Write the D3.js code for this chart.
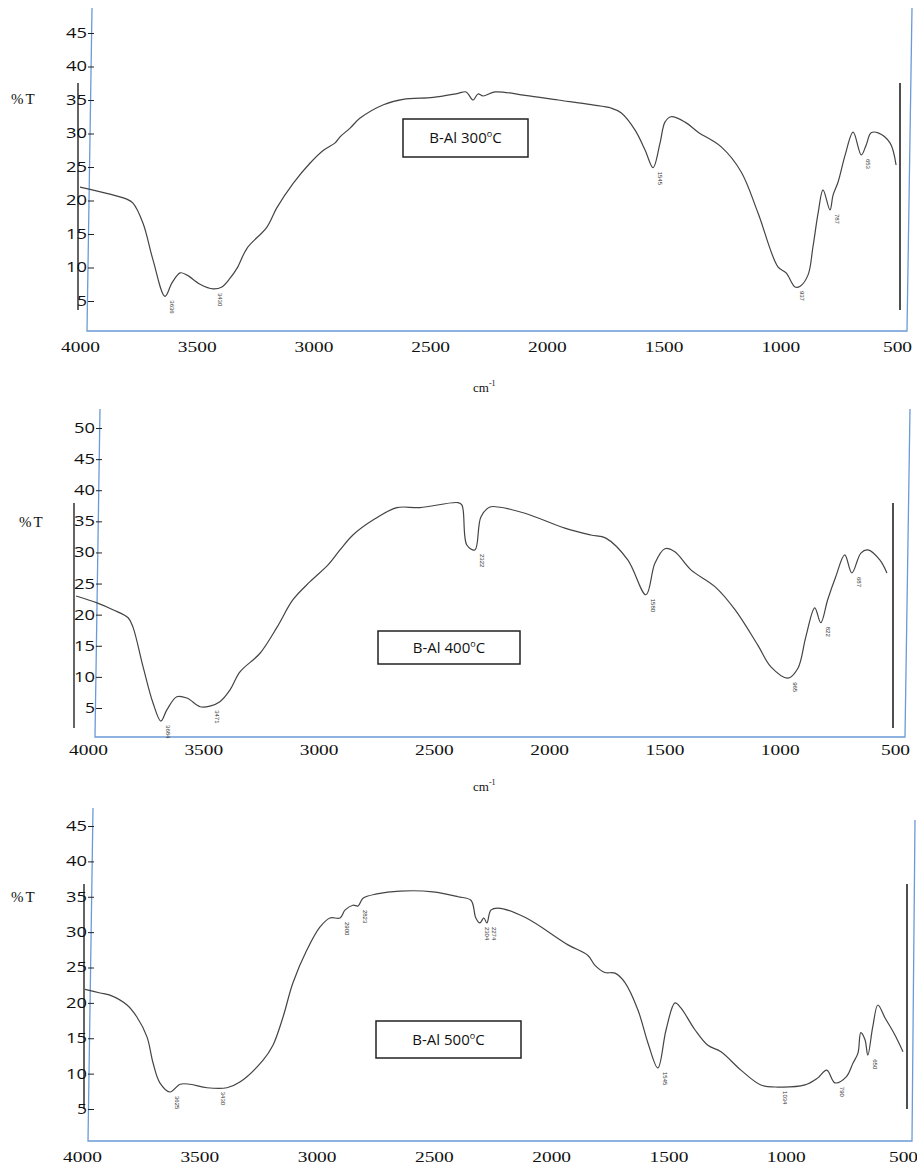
<!DOCTYPE html>
<html>
<head>
<meta charset="utf-8">
<script src="https://cdn.jsdelivr.net/npm/d3@7"></script>
<style>
body { margin: 0; background: #fff; }
</style>
</head>
<body>
<div id="chart"></div>
<script>
// wavenumber ticks shared by the three spectra
const xTicks = [4000, 3500, 3000, 2500, 2000, 1500, 1000, 500];
const yTicks300 = [5, 10, 15, 20, 25, 30, 35, 40, 45];
const yTicks400 = [5, 10, 15, 20, 25, 30, 35, 40, 45, 50];
const yTicks500 = [5, 10, 15, 20, 25, 30, 35, 40, 45];
const sampleNames = ["B-Al 300", "B-Al 400", "B-Al 500"];

// [wavenumber cm-1, %T]
const spec300 = [
  [4000, 22.0], [3800, 20.2], [3773, 19.6], [3730, 16.6], [3687, 11.1], [3636, 5.7],
  [3606, 7.7], [3571, 9.2], [3543, 8.9], [3486, 7.5], [3430, 6.8], [3392, 7.1],
  [3357, 8.4], [3327, 9.9], [3284, 12.9], [3200, 16.0], [3157, 18.9], [3086, 22.6],
  [3014, 25.6], [2957, 27.5], [2907, 28.6], [2886, 29.5], [2843, 30.8], [2800, 32.3],
  [2700, 34.3], [2616, 35.1], [2487, 35.4], [2380, 36.0], [2346, 36.2], [2316, 35.0],
  [2295, 35.9], [2273, 35.6], [2222, 36.2], [2093, 35.7], [1952, 35.0], [1810, 34.3],
  [1725, 33.8], [1682, 33.1], [1622, 30.5], [1579, 27.5], [1545, 24.9], [1515, 28.6],
  [1494, 31.7], [1468, 32.5], [1408, 31.7], [1352, 30.2], [1253, 28.0], [1168, 24.3],
  [1095, 18.1], [1010, 10.1], [975, 9.2], [937, 7.1], [915, 7.2], [881, 8.9],
  [860, 13.1], [838, 18.1], [817, 21.6], [787, 18.6], [774, 20.8], [752, 22.8],
  [722, 26.8], [688, 30.2], [653, 26.8], [632, 28.3], [611, 30.1], [581, 30.1],
  [530, 28.6], [504, 25.3]
];
const spec400 = [
  [4052, 23.0], [3961, 21.9], [3892, 20.8], [3826, 19.5], [3805, 18.0], [3761, 11.6],
  [3718, 5.8], [3684, 2.9], [3658, 4.7], [3615, 6.8], [3571, 6.6], [3514, 5.2],
  [3471, 5.3], [3428, 6.0], [3384, 7.9], [3341, 10.8], [3254, 13.8], [3180, 18.0],
  [3111, 22.4], [3037, 25.3], [2959, 28.0], [2907, 30.4], [2851, 32.8], [2764, 35.2],
  [2660, 37.2], [2560, 37.2], [2395, 38.0], [2378, 37.6], [2357, 31.2], [2322, 30.4],
  [2296, 35.7], [2257, 37.3], [2222, 37.3], [2105, 36.3], [1932, 33.9], [1819, 32.8],
  [1754, 32.3], [1659, 28.8], [1580, 23.2], [1541, 28.3], [1498, 30.6], [1455, 30.1],
  [1385, 27.2], [1281, 24.5], [1194, 20.8], [1095, 15.1], [1038, 11.6], [965, 9.8],
  [921, 11.4], [887, 16.4], [848, 21.1], [822, 18.7], [792, 22.4], [757, 26.1],
  [718, 29.6], [687, 26.7], [648, 29.9], [618, 30.4], [566, 28.8], [535, 26.7]
];
const spec500 = [
  [3987, 21.9], [3923, 21.4], [3881, 21.1], [3808, 19.7], [3766, 18.0], [3723, 15.2],
  [3697, 11.5], [3668, 8.7], [3625, 7.4], [3582, 8.5], [3540, 8.5], [3467, 8.0],
  [3382, 8.0], [3327, 8.8], [3228, 11.9], [3186, 14.0], [3143, 18.0], [3101, 22.8],
  [3041, 27.5], [2986, 30.7], [2943, 32.0], [2900, 32.0], [2879, 33.1], [2845, 33.8],
  [2823, 33.7], [2802, 34.8], [2743, 35.4], [2645, 35.8], [2504, 35.7], [2397, 35.0],
  [2342, 34.5], [2321, 32.0], [2304, 31.3], [2287, 32.0], [2274, 31.3], [2257, 33.1],
  [2227, 33.4], [2112, 32.1], [1928, 28.2], [1843, 26.7], [1813, 25.3], [1771, 24.3],
  [1728, 24.2], [1686, 22.9], [1630, 19.0], [1587, 14.3], [1545, 10.8], [1510, 16.2],
  [1472, 20.0], [1447, 19.3], [1387, 16.2], [1332, 14.0], [1276, 13.1], [1191, 10.5],
  [1106, 8.4], [1034, 8.1], [918, 8.4], [863, 9.4], [825, 10.5], [790, 8.7],
  [743, 9.5], [713, 11.5], [692, 12.9], [680, 15.8], [662, 14.8], [650, 12.6],
  [629, 16.6], [607, 19.7], [577, 17.9], [535, 15.5], [500, 13.1]
];

// marked band positions
const peaks300 = [3636, 3430, 1545, 937, 787, 653];
const peaks400 = [3684, 3471, 2322, 1580, 965, 822, 687];
const peaks500 = [3625, 3430, 2900, 2823, 2304, 2274, 1545, 1034, 790, 650];

// page geometry of the three scanned panels
const layout = [
  { top: 8, bottom: 331, blue: [92, 87, 912, 907], blueRightTop: 8,
    xr: [80, 897], y5: 301, yTop: 33, yAxisX: 88, black: [78, 900, 83, 310],
    pct: [11, 104], box: [403, 119, 528, 157], cm: [473, 392], xPad: 10 },
  { top: 409, bottom: 737, blue: [100, 95, 910, 905], blueRightTop: 409,
    xr: [88, 895], y5: 708, yTop: 428, yAxisX: 96, black: [74, 893, 503, 728],
    pct: [19, 527], box: [378, 631, 520, 664], cm: [473, 791], xPad: 7 },
  { top: 808, bottom: 1141, blue: [93, 88, 915, 912], blueRightTop: 820,
    xr: [82, 903], y5: 1109, yTop: 826, yAxisX: 88, black: [84, 907, 884, 1109],
    pct: [11, 902], box: [376, 1021, 521, 1058], cm: null, xPad: 10 }
];

const panels = [
  { data: spec300, yTicks: yTicks300, peaks: peaks300, name: sampleNames[0], temp: "300" },
  { data: spec400, yTicks: yTicks400, peaks: peaks400, name: sampleNames[1], temp: "400" },
  { data: spec500, yTicks: yTicks500, peaks: peaks500, name: sampleNames[2], temp: "500" }
];

const svg = d3.select("#chart").append("svg")
  .attr("width", 917)
  .attr("height", 1167);

function valueAt(data, wn) {
  for (let i = 0; i < data.length - 1; i++) {
    const a = data[i], b = data[i + 1];
    if (wn <= a[0] && wn >= b[0]) {
      const t = (a[0] - wn) / (a[0] - b[0]);
      return a[1] + t * (b[1] - a[1]);
    }
  }
  return data[data.length - 1][1];
}

panels.forEach((p, i) => {
  const L = layout[i];
  const g = svg.append("g");

  const x = d3.scaleLinear().domain([4000, 500]).range(L.xr);
  const top = p.yTicks[p.yTicks.length - 1];
  const y = d3.scaleLinear().domain([5, top]).range([L.y5, L.yTop]);

  // blue frame (slightly skewed scan)
  g.append("path")
    .attr("d", `M${L.blue[0]},${L.top} L${L.blue[1]},${L.bottom} L${L.blue[3]},${L.bottom} L${L.blue[2]},${L.blueRightTop}`)
    .attr("fill", "none")
    .attr("stroke", "#6a9ad8")
    .attr("stroke-width", 1.3);

  // black bars from the original spectrum frame
  g.append("line").attr("x1", L.black[0]).attr("x2", L.black[0])
    .attr("y1", L.black[2]).attr("y2", L.black[3])
    .attr("stroke", "#111").attr("stroke-width", 1.3);
  g.append("line").attr("x1", L.black[1]).attr("x2", L.black[1])
    .attr("y1", L.black[2]).attr("y2", L.black[3])
    .attr("stroke", "#222").attr("stroke-width", 1.6);

  // y axis
  const yAxis = g.append("g")
    .attr("transform", `translate(${L.yAxisX},0)`)
    .call(d3.axisLeft(y).tickValues(p.yTicks).tickSizeInner(-6).tickSizeOuter(0).tickPadding(1));
  yAxis.select(".domain").remove();
  yAxis.selectAll(".tick line").attr("stroke", "#222");
  yAxis.selectAll(".tick text")
    .attr("font-family", "Open Sans, sans-serif")
    .attr("font-size", 14)
    .attr("fill", "#111")
    .attr("textLength", d => d < 10 ? 10 : 21)
    .attr("lengthAdjust", "spacingAndGlyphs");

  // x axis
  const xAxis = g.append("g")
    .attr("transform", `translate(0,${L.bottom})`)
    .call(d3.axisBottom(x).tickValues(xTicks).tickFormat(d3.format("d")).tickSize(0).tickPadding(L.xPad));
  xAxis.select(".domain").remove();
  xAxis.selectAll(".tick text")
    .attr("font-family", "Liberation Serif, serif")
    .attr("font-size", 15)
    .attr("fill", "#111")
    .attr("textLength", d => String(d).length * 9.7)
    .attr("lengthAdjust", "spacingAndGlyphs");

  // %T label
  g.append("text")
    .attr("x", L.pct[0]).attr("y", L.pct[1])
    .attr("font-family", "Liberation Serif, serif")
    .attr("font-size", 15)
    .attr("letter-spacing", 2)
    .attr("fill", "#111")
    .text("%T");

  // spectrum
  const line = d3.line()
    .x(d => x(d[0]))
    .y(d => y(d[1]))
    .curve(d3.curveCatmullRom.alpha(0.5));
  g.append("path")
    .datum(p.data)
    .attr("d", line)
    .attr("fill", "none")
    .attr("stroke", "#444")
    .attr("stroke-width", 1.2);

  // band labels (small, rotated)
  g.selectAll(".peak")
    .data(p.peaks)
    .join("text")
    .attr("class", "peak")
    .attr("transform", d => `translate(${x(d) + 5},${y(valueAt(p.data, d)) + 4}) rotate(90)`)
    .attr("font-family", "Liberation Sans, sans-serif")
    .attr("font-size", 6)
    .attr("fill", "#333")
    .text(d => d);

  // sample label box
  const b = L.box;
  g.append("rect")
    .attr("x", b[0]).attr("y", b[1])
    .attr("width", b[2] - b[0]).attr("height", b[3] - b[1])
    .attr("fill", "#fff")
    .attr("stroke", "#222")
    .attr("stroke-width", 1.5);
  const t = g.append("text")
    .attr("x", (b[0] + b[2]) / 2)
    .attr("y", (b[1] + b[3]) / 2 + 5)
    .attr("text-anchor", "middle")
    .attr("font-family", "Open Sans, sans-serif")
    .attr("font-size", 15)
    .attr("fill", "#111");
  t.append("tspan").text(p.name.replace(p.temp, "") + p.temp);
  t.append("tspan").attr("font-size", 9).attr("dy", -6).text("o");
  t.append("tspan").attr("dy", 6).text("C");

  // unit label
  if (L.cm) {
    const c = g.append("text")
      .attr("x", L.cm[0]).attr("y", L.cm[1])
      .attr("font-family", "Liberation Serif, serif")
      .attr("font-size", 13)
      .attr("fill", "#111");
    c.append("tspan").text("cm");
    c.append("tspan").attr("font-size", 8).attr("dy", -6).text("-1");
  }
});
</script>
</body>
</html>
